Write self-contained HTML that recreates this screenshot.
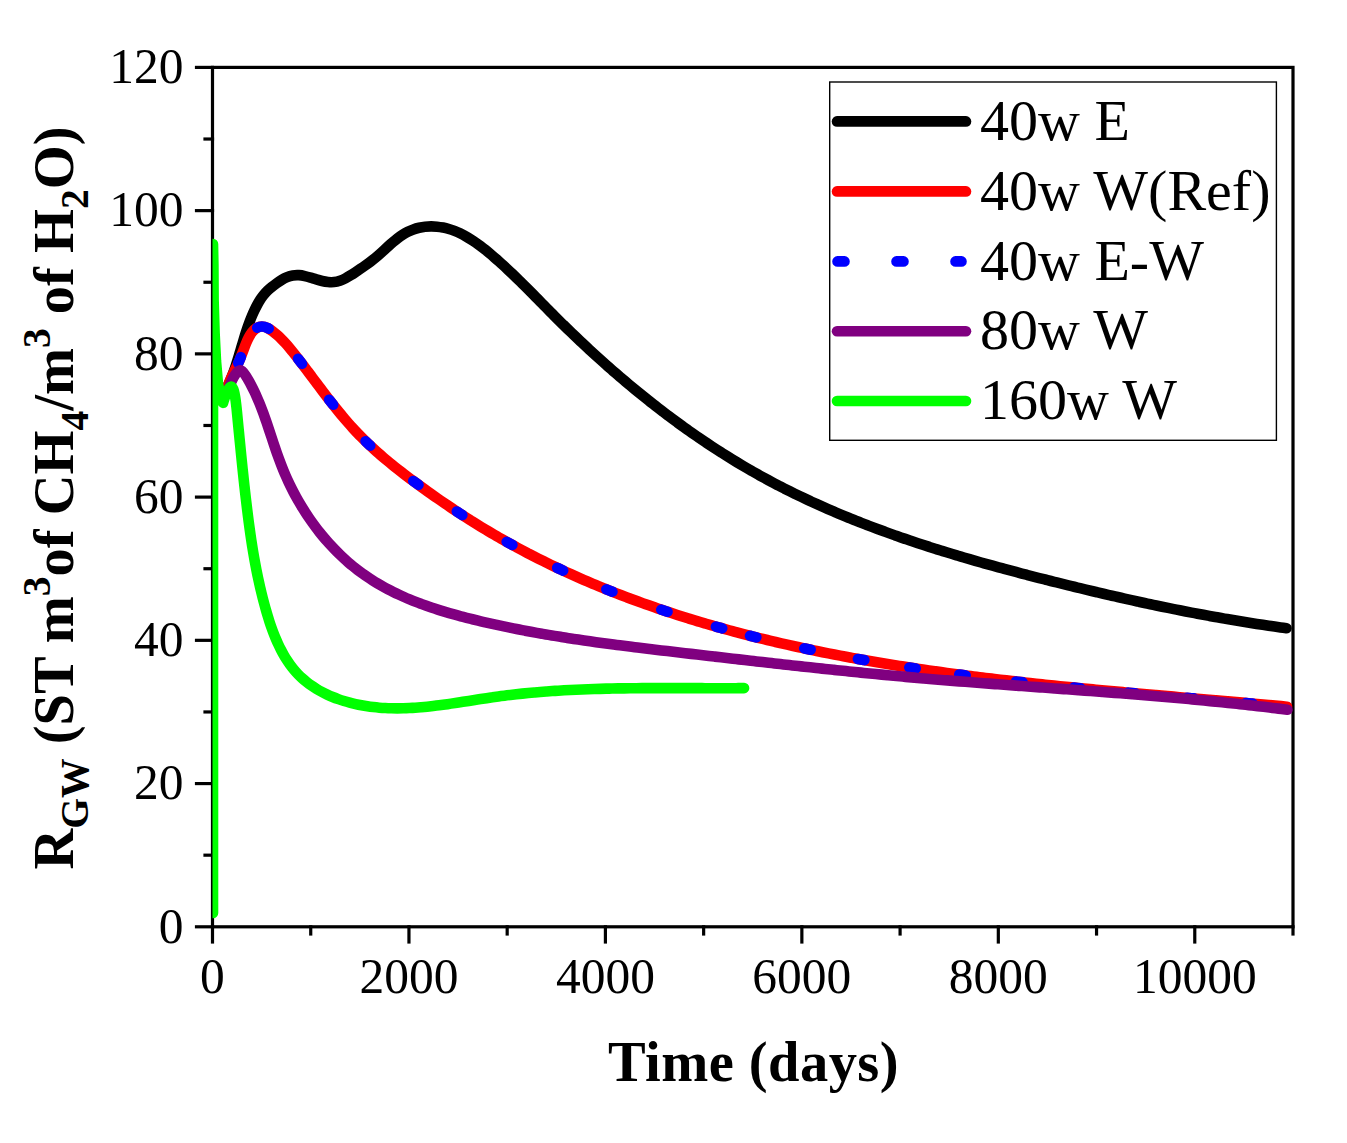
<!DOCTYPE html>
<html><head><meta charset="utf-8"><style>
html,body{margin:0;padding:0;background:#fff;overflow:hidden;}
svg{display:block;}
text{font-family:"Liberation Serif",serif;fill:#000;}
.tk{font-size:49.5px;}
.lg{font-size:58px;}
.ax{font-size:56.5px;font-weight:bold;}
.tt{letter-spacing:0.45px;}
</style></head><body>
<svg width="1347" height="1143" viewBox="0 0 1347 1143">
<rect width="1347" height="1143" fill="#fff"/>
<defs><clipPath id="pc"><rect x="212.5" y="67.4" width="1080.5" height="859.4"/></clipPath></defs>
<g stroke="#000" stroke-width="3.2" stroke-linecap="square" fill="none">
<rect x="212.5" y="67.4" width="1080.5" height="859.4"/>
<line x1="196.5" y1="926.80" x2="212.50" y2="926.80"/>
<line x1="196.5" y1="783.57" x2="212.50" y2="783.57"/>
<line x1="196.5" y1="640.33" x2="212.50" y2="640.33"/>
<line x1="196.5" y1="497.10" x2="212.50" y2="497.10"/>
<line x1="196.5" y1="353.87" x2="212.50" y2="353.87"/>
<line x1="196.5" y1="210.63" x2="212.50" y2="210.63"/>
<line x1="196.5" y1="67.40" x2="212.50" y2="67.40"/>
<line x1="205" y1="855.18" x2="212.50" y2="855.18"/>
<line x1="205" y1="711.95" x2="212.50" y2="711.95"/>
<line x1="205" y1="568.72" x2="212.50" y2="568.72"/>
<line x1="205" y1="425.48" x2="212.50" y2="425.48"/>
<line x1="205" y1="282.25" x2="212.50" y2="282.25"/>
<line x1="205" y1="139.02" x2="212.50" y2="139.02"/>
<line x1="212.50" y1="926.80" x2="212.50" y2="942"/>
<line x1="408.95" y1="926.80" x2="408.95" y2="942"/>
<line x1="605.41" y1="926.80" x2="605.41" y2="942"/>
<line x1="801.86" y1="926.80" x2="801.86" y2="942"/>
<line x1="998.32" y1="926.80" x2="998.32" y2="942"/>
<line x1="1194.77" y1="926.80" x2="1194.77" y2="942"/>
<line x1="310.73" y1="926.80" x2="310.73" y2="934"/>
<line x1="507.18" y1="926.80" x2="507.18" y2="934"/>
<line x1="703.64" y1="926.80" x2="703.64" y2="934"/>
<line x1="900.09" y1="926.80" x2="900.09" y2="934"/>
<line x1="1096.55" y1="926.80" x2="1096.55" y2="934"/>
<line x1="1293.00" y1="926.80" x2="1293.00" y2="934"/>
</g>
<g clip-path="url(#pc)" fill="none" stroke-linejoin="round" stroke-linecap="round" stroke-width="10.6">
<path d="M225.89,389.88 C226.82,388.10 227.70,386.30 228.54,384.48 C229.37,382.66 230.17,380.82 230.93,378.96 C231.68,377.11 232.41,375.24 233.10,373.36 C233.79,371.48 234.46,369.59 235.10,367.69 C235.74,365.79 236.36,363.89 236.97,361.97 C237.57,360.07 238.16,358.15 238.74,356.23 C239.31,354.31 239.88,352.39 240.45,350.47 C241.02,348.55 241.58,346.62 242.15,344.70 C242.72,342.78 243.29,340.86 243.87,338.94 C244.46,337.02 245.05,335.11 245.66,333.20 C246.27,331.29 246.89,329.39 247.54,327.49 C248.20,325.59 248.87,323.71 249.57,321.84 C250.28,319.96 251.02,318.09 251.79,316.25 C252.56,314.39 253.37,312.56 254.22,310.75 C255.08,308.94 255.97,307.14 256.92,305.38 C257.87,303.61 258.86,301.87 259.93,300.18 C261.01,298.49 262.15,296.84 263.40,295.27 C264.63,293.70 265.97,292.22 267.42,290.81 C268.83,289.42 270.34,288.10 271.92,286.82 C273.46,285.57 275.06,284.36 276.70,283.19 C278.34,282.02 280.02,280.91 281.74,279.90 C283.49,278.88 285.29,277.96 287.11,277.21 C288.99,276.43 290.91,275.84 292.85,275.48 C294.83,275.11 296.83,275.02 298.84,275.16 C300.80,275.29 302.78,275.63 304.77,276.09 C306.69,276.53 308.63,277.09 310.57,277.67 C312.48,278.25 314.39,278.87 316.31,279.44 C318.25,280.02 320.19,280.56 322.12,281.01 C324.10,281.48 326.07,281.84 328.04,282.04 C330.05,282.25 332.06,282.29 334.04,282.09 C336.01,281.89 337.96,281.43 339.89,280.77 C341.75,280.13 343.58,279.31 345.39,278.36 C347.15,277.45 348.88,276.42 350.59,275.35 C352.29,274.28 353.96,273.16 355.61,272.04 C357.30,270.91 358.96,269.79 360.59,268.68 C362.27,267.55 363.92,266.42 365.55,265.28 C367.20,264.13 368.82,262.96 370.42,261.75 C372.01,260.56 373.58,259.32 375.14,258.03 C376.67,256.76 378.18,255.44 379.68,254.09 C381.16,252.76 382.64,251.40 384.12,250.04 C385.59,248.68 387.07,247.32 388.55,245.98 C390.04,244.63 391.54,243.29 393.06,242.00 C394.59,240.69 396.14,239.42 397.72,238.21 C399.33,236.98 400.96,235.82 402.63,234.74 C404.32,233.65 406.06,232.64 407.84,231.74 C409.63,230.84 411.47,230.06 413.37,229.39 C415.25,228.72 417.18,228.18 419.14,227.74 C421.10,227.30 423.08,226.98 425.07,226.76 C427.06,226.54 429.07,226.43 431.07,226.42 C433.08,226.41 435.09,226.50 437.07,226.69 C439.08,226.88 441.07,227.17 443.02,227.55 C444.99,227.94 446.94,228.42 448.86,228.98 C450.78,229.55 452.67,230.20 454.54,230.93 C456.41,231.65 458.24,232.45 460.06,233.32 C461.86,234.18 463.64,235.10 465.39,236.09 C467.14,237.06 468.86,238.09 470.56,239.16 C472.24,240.23 473.91,241.34 475.56,242.50 C477.20,243.64 478.82,244.82 480.42,246.03 C482.02,247.24 483.60,248.47 485.16,249.72 C486.73,250.98 488.28,252.25 489.81,253.54 C491.35,254.83 492.87,256.13 494.38,257.44 C495.90,258.76 497.41,260.08 498.90,261.41 C500.40,262.74 501.89,264.09 503.36,265.44 C504.84,266.79 506.32,268.15 507.78,269.52 C509.24,270.89 510.70,272.26 512.15,273.65 C513.60,275.03 515.04,276.42 516.48,277.81 C517.92,279.21 519.35,280.61 520.78,282.02 C522.20,283.43 523.63,284.84 525.04,286.25 C526.46,287.67 527.88,289.09 529.29,290.51 C530.70,291.93 532.11,293.35 533.52,294.78 C534.93,296.21 536.33,297.63 537.74,299.06 C539.14,300.49 540.55,301.92 541.95,303.35 C543.36,304.78 544.76,306.21 546.17,307.64 C547.57,309.06 548.98,310.49 550.39,311.91 C551.80,313.34 553.21,314.76 554.63,316.18 C556.04,317.59 557.46,319.01 558.89,320.42 C560.31,321.83 561.73,323.24 563.16,324.65 C564.59,326.05 566.02,327.45 567.46,328.85 C568.90,330.25 570.34,331.64 571.78,333.03 C573.22,334.42 574.67,335.81 576.12,337.19 C577.57,338.57 579.02,339.95 580.48,341.33 C581.94,342.70 583.40,344.08 584.86,345.44 C586.33,346.81 587.79,348.18 589.27,349.54 C590.74,350.90 592.21,352.25 593.69,353.61 C595.17,354.96 596.65,356.31 598.14,357.65 C599.62,359.00 601.11,360.34 602.61,361.67 C604.10,363.01 605.60,364.34 607.10,365.67 C608.60,367.00 610.10,368.32 611.61,369.64 C613.12,370.96 614.63,372.27 616.15,373.59 C617.66,374.90 619.18,376.20 620.70,377.50 C622.23,378.81 623.75,380.10 625.28,381.40 C626.82,382.69 628.35,383.98 629.89,385.26 C631.43,386.55 632.97,387.83 634.51,389.10 C636.06,390.38 637.61,391.65 639.16,392.91 C640.72,394.18 642.28,395.44 643.84,396.70 C645.40,397.95 646.96,399.20 648.53,400.45 C650.10,401.69 651.68,402.94 653.25,404.17 C654.83,405.41 656.41,406.64 658.00,407.87 C659.58,409.09 661.17,410.31 662.76,411.53 C664.35,412.75 665.95,413.96 667.55,415.16 C669.15,416.37 670.76,417.57 672.37,418.76 C673.98,419.96 675.59,421.15 677.20,422.33 C678.82,423.51 680.44,424.69 682.07,425.86 C683.69,427.04 685.32,428.20 686.95,429.37 C688.59,430.53 690.22,431.68 691.87,432.83 C693.51,433.98 695.15,435.13 696.80,436.26 C698.45,437.40 700.10,438.53 701.76,439.66 C703.42,440.79 705.08,441.91 706.75,443.02 C708.41,444.14 710.08,445.24 711.75,446.34 C713.43,447.45 715.11,448.54 716.79,449.63 C718.47,450.72 720.16,451.80 721.85,452.88 C723.54,453.95 725.23,455.02 726.93,456.09 C728.63,457.15 730.33,458.21 732.04,459.26 C733.75,460.31 735.46,461.35 737.17,462.39 C738.89,463.42 740.61,464.45 742.33,465.47 C744.05,466.50 745.78,467.51 747.51,468.52 C749.25,469.53 750.98,470.53 752.72,471.52 C754.46,472.52 756.21,473.50 757.95,474.48 C759.70,475.46 761.45,476.43 763.21,477.40 C764.97,478.36 766.73,479.32 768.49,480.27 C770.26,481.22 772.03,482.16 773.80,483.10 C775.57,484.03 777.35,484.96 779.13,485.88 C780.91,486.80 782.69,487.71 784.48,488.62 C786.26,489.53 788.05,490.42 789.85,491.32 C791.64,492.21 793.44,493.09 795.24,493.97 C797.04,494.85 798.85,495.72 800.66,496.59 C802.46,497.45 804.27,498.31 806.09,499.16 C807.90,500.01 809.72,500.86 811.54,501.70 C813.36,502.53 815.18,503.37 817.01,504.19 C818.83,505.02 820.66,505.83 822.50,506.65 C824.33,507.46 826.16,508.27 828.00,509.07 C829.84,509.87 831.68,510.66 833.52,511.45 C835.36,512.24 837.21,513.02 839.05,513.80 C840.90,514.57 842.75,515.34 844.60,516.11 C846.45,516.87 848.31,517.63 850.17,518.38 C852.02,519.13 853.88,519.88 855.74,520.62 C857.61,521.37 859.47,522.10 861.34,522.83 C863.20,523.56 865.07,524.29 866.94,525.01 C868.81,525.73 870.68,526.44 872.56,527.15 C874.43,527.86 876.31,528.56 878.19,529.26 C880.06,529.96 881.94,530.65 883.83,531.34 C885.71,532.03 887.59,532.71 889.48,533.39 C891.36,534.07 893.25,534.74 895.14,535.41 C897.03,536.07 898.92,536.74 900.81,537.39 C902.71,538.05 904.60,538.71 906.50,539.35 C908.39,540.00 910.29,540.65 912.19,541.28 C914.09,541.92 915.99,542.56 917.89,543.19 C919.80,543.82 921.70,544.44 923.60,545.06 C925.51,545.68 927.42,546.30 929.32,546.91 C931.23,547.52 933.14,548.13 935.05,548.73 C936.96,549.34 938.88,549.94 940.79,550.53 C942.70,551.13 944.62,551.72 946.53,552.30 C948.45,552.89 950.37,553.47 952.29,554.05 C954.20,554.63 956.12,555.21 958.04,555.78 C959.96,556.35 961.89,556.92 963.81,557.49 C965.73,558.05 967.65,558.61 969.58,559.17 C971.50,559.73 973.43,560.28 975.36,560.84 C977.28,561.39 979.21,561.93 981.14,562.48 C983.07,563.02 985.00,563.57 986.93,564.11 C988.86,564.64 990.79,565.18 992.72,565.71 C994.65,566.25 996.58,566.78 998.51,567.30 C1000.45,567.83 1002.38,568.36 1004.32,568.88 C1006.25,569.40 1008.19,569.92 1010.12,570.44 C1012.06,570.96 1014.00,571.47 1015.93,571.98 C1017.87,572.49 1019.81,573.00 1021.75,573.51 C1023.68,574.02 1025.62,574.53 1027.56,575.03 C1029.50,575.53 1031.44,576.04 1033.38,576.54 C1035.32,577.04 1037.26,577.53 1039.21,578.03 C1041.15,578.53 1043.09,579.02 1045.03,579.51 C1046.97,580.01 1048.92,580.50 1050.86,580.99 C1052.80,581.47 1054.75,581.96 1056.69,582.45 C1058.63,582.93 1060.58,583.42 1062.52,583.90 C1064.47,584.38 1066.41,584.86 1068.36,585.34 C1070.31,585.82 1072.25,586.30 1074.20,586.77 C1076.15,587.25 1078.09,587.72 1080.04,588.19 C1081.99,588.66 1083.94,589.13 1085.89,589.60 C1087.83,590.07 1089.78,590.53 1091.73,591.00 C1093.68,591.46 1095.63,591.92 1097.58,592.38 C1099.53,592.84 1101.48,593.30 1103.44,593.75 C1105.39,594.21 1107.34,594.66 1109.29,595.11 C1111.24,595.56 1113.20,596.01 1115.15,596.45 C1117.10,596.90 1119.06,597.34 1121.01,597.78 C1122.97,598.23 1124.92,598.67 1126.88,599.10 C1128.83,599.54 1130.79,599.97 1132.75,600.41 C1134.70,600.84 1136.66,601.27 1138.62,601.69 C1140.58,602.12 1142.54,602.55 1144.49,602.97 C1146.45,603.39 1148.41,603.81 1150.37,604.23 C1152.33,604.64 1154.29,605.06 1156.25,605.47 C1158.22,605.88 1160.18,606.29 1162.14,606.70 C1164.10,607.10 1166.06,607.51 1168.03,607.91 C1169.99,608.31 1171.95,608.71 1173.92,609.10 C1175.88,609.50 1177.85,609.89 1179.81,610.28 C1181.78,610.67 1183.75,611.06 1185.71,611.44 C1187.68,611.83 1189.65,612.21 1191.61,612.59 C1193.58,612.96 1195.55,613.34 1197.52,613.71 C1199.49,614.08 1201.46,614.45 1203.43,614.82 C1205.40,615.19 1207.37,615.55 1209.34,615.91 C1211.31,616.27 1213.28,616.63 1215.26,616.98 C1217.23,617.33 1219.20,617.69 1221.17,618.03 C1223.15,618.38 1225.12,618.73 1227.10,619.07 C1229.07,619.41 1231.05,619.74 1233.02,620.08 C1235.00,620.41 1236.97,620.74 1238.95,621.07 C1240.93,621.40 1242.91,621.72 1244.88,622.05 C1246.86,622.37 1248.84,622.68 1250.82,623.00 C1252.80,623.31 1254.78,623.62 1256.76,623.93 C1258.74,624.24 1260.72,624.54 1262.70,624.84 C1264.68,625.14 1266.66,625.44 1268.65,625.73 C1270.63,626.02 1272.61,626.31 1274.59,626.60 C1276.58,626.88 1278.56,627.16 1280.55,627.44 C1282.53,627.72 1284.52,627.99 1286.50,628.26" stroke="#000"/>
<path d="M227.44,387.09 C228.14,385.07 228.85,383.22 229.57,381.48 C230.37,379.53 231.18,377.72 231.99,375.99 C232.86,374.13 233.74,372.35 234.62,370.60 C235.50,368.82 236.39,367.05 237.26,365.21 C238.09,363.47 238.92,361.68 239.73,359.74 C240.47,357.99 241.20,356.11 241.93,354.16 C242.61,352.33 243.31,350.44 244.02,348.54 C244.73,346.66 245.45,344.78 246.22,342.96 C247.01,341.07 247.85,339.23 248.74,337.52 C249.71,335.65 250.76,333.92 251.89,332.42 C253.18,330.70 254.60,329.28 256.17,328.26 C257.89,327.14 259.81,326.51 261.82,326.49 C263.68,326.48 265.62,327.04 267.55,328.03 C269.25,328.90 270.95,330.06 272.58,331.29 C274.19,332.50 275.73,333.77 277.23,335.08 C278.74,336.40 280.19,337.78 281.60,339.19 C283.02,340.60 284.39,342.05 285.73,343.54 C287.07,345.02 288.38,346.53 289.66,348.07 C290.95,349.60 292.20,351.16 293.45,352.72 C294.69,354.29 295.92,355.87 297.15,357.45 C298.37,359.03 299.59,360.61 300.81,362.20 C302.02,363.79 303.23,365.38 304.44,366.98 C305.64,368.57 306.85,370.17 308.05,371.77 C309.25,373.36 310.45,374.96 311.65,376.56 C312.85,378.16 314.05,379.76 315.25,381.36 C316.45,382.96 317.65,384.56 318.85,386.16 C320.06,387.76 321.26,389.35 322.47,390.95 C323.68,392.54 324.89,394.13 326.11,395.72 C327.33,397.31 328.55,398.89 329.78,400.47 C331.00,402.05 332.24,403.62 333.48,405.19 C334.72,406.76 335.97,408.32 337.23,409.87 C338.48,411.43 339.75,412.98 341.03,414.51 C342.30,416.05 343.59,417.59 344.88,419.11 C346.18,420.63 347.49,422.14 348.81,423.64 C350.13,425.14 351.47,426.63 352.81,428.11 C354.16,429.59 355.52,431.06 356.90,432.51 C358.27,433.96 359.66,435.40 361.07,436.82 C362.47,438.24 363.89,439.65 365.32,441.05 C366.76,442.44 368.20,443.82 369.66,445.19 C371.12,446.56 372.59,447.92 374.07,449.26 C375.55,450.61 377.04,451.94 378.54,453.26 C380.04,454.58 381.56,455.88 383.08,457.18 C384.60,458.48 386.13,459.76 387.67,461.04 C389.21,462.32 390.76,463.58 392.32,464.84 C393.87,466.10 395.43,467.34 397.00,468.58 C398.57,469.82 400.15,471.05 401.73,472.27 C403.31,473.50 404.90,474.71 406.50,475.92 C408.09,477.13 409.69,478.33 411.29,479.53 C412.89,480.72 414.50,481.91 416.11,483.10 C417.72,484.28 419.34,485.46 420.96,486.64 C422.58,487.81 424.20,488.98 425.82,490.15 C427.45,491.31 429.07,492.47 430.71,493.63 C432.34,494.79 433.97,495.94 435.61,497.08 C437.25,498.23 438.89,499.37 440.54,500.51 C442.18,501.64 443.83,502.77 445.49,503.90 C447.14,505.03 448.80,506.15 450.46,507.26 C452.12,508.38 453.78,509.48 455.45,510.59 C457.12,511.69 458.79,512.79 460.46,513.88 C462.14,514.97 463.82,516.06 465.50,517.14 C467.18,518.22 468.87,519.29 470.56,520.36 C472.25,521.43 473.95,522.49 475.65,523.54 C477.35,524.60 479.05,525.65 480.76,526.69 C482.46,527.73 484.18,528.76 485.89,529.79 C487.61,530.82 489.32,531.84 491.05,532.86 C492.77,533.87 494.50,534.88 496.23,535.88 C497.96,536.89 499.69,537.88 501.43,538.87 C503.17,539.86 504.91,540.84 506.66,541.82 C508.40,542.79 510.15,543.76 511.90,544.73 C513.66,545.69 515.41,546.64 517.17,547.59 C518.93,548.54 520.69,549.49 522.46,550.43 C524.23,551.36 526.00,552.29 527.77,553.22 C529.54,554.14 531.32,555.06 533.10,555.97 C534.88,556.88 536.66,557.79 538.45,558.69 C540.24,559.59 542.03,560.48 543.82,561.36 C545.61,562.25 547.41,563.13 549.20,564.00 C551.00,564.88 552.81,565.75 554.61,566.61 C556.42,567.47 558.22,568.32 560.03,569.17 C561.84,570.02 563.66,570.86 565.47,571.70 C567.29,572.54 569.11,573.37 570.93,574.19 C572.75,575.02 574.58,575.83 576.41,576.65 C578.23,577.46 580.06,578.27 581.90,579.07 C583.73,579.87 585.56,580.66 587.40,581.45 C589.24,582.24 591.08,583.02 592.92,583.80 C594.77,584.57 596.61,585.34 598.46,586.11 C600.31,586.87 602.16,587.63 604.01,588.38 C605.86,589.14 607.72,589.88 609.57,590.62 C611.43,591.37 613.29,592.10 615.15,592.83 C617.01,593.56 618.88,594.29 620.74,595.00 C622.61,595.72 624.48,596.44 626.35,597.14 C628.22,597.85 630.09,598.55 631.97,599.25 C633.84,599.95 635.72,600.64 637.60,601.32 C639.48,602.01 641.36,602.69 643.24,603.36 C645.12,604.04 647.01,604.70 648.89,605.37 C650.78,606.03 652.67,606.69 654.56,607.34 C656.45,608.00 658.34,608.64 660.23,609.29 C662.13,609.93 664.02,610.56 665.92,611.20 C667.82,611.83 669.72,612.45 671.62,613.08 C673.52,613.70 675.42,614.31 677.32,614.93 C679.23,615.54 681.13,616.14 683.04,616.74 C684.95,617.35 686.86,617.94 688.77,618.53 C690.68,619.12 692.59,619.71 694.50,620.29 C696.42,620.87 698.33,621.45 700.25,622.02 C702.16,622.59 704.08,623.16 706.00,623.72 C707.92,624.28 709.84,624.84 711.76,625.39 C713.68,625.95 715.61,626.49 717.53,627.04 C719.46,627.58 721.38,628.12 723.31,628.65 C725.24,629.19 727.17,629.72 729.10,630.24 C731.02,630.77 732.96,631.29 734.89,631.80 C736.82,632.32 738.75,632.83 740.69,633.34 C742.62,633.84 744.56,634.34 746.49,634.84 C748.43,635.34 750.37,635.83 752.31,636.32 C754.25,636.81 756.19,637.30 758.13,637.78 C760.07,638.26 762.01,638.74 763.95,639.21 C765.90,639.68 767.84,640.15 769.79,640.61 C771.73,641.08 773.68,641.54 775.63,641.99 C777.57,642.45 779.52,642.90 781.47,643.35 C783.42,643.80 785.37,644.24 787.32,644.68 C789.27,645.12 791.22,645.56 793.17,645.99 C795.13,646.42 797.08,646.85 799.03,647.28 C800.99,647.70 802.94,648.12 804.90,648.54 C806.85,648.96 808.81,649.37 810.77,649.78 C812.73,650.19 814.68,650.59 816.64,651.00 C818.60,651.40 820.56,651.80 822.52,652.19 C824.48,652.59 826.44,652.98 828.40,653.37 C830.37,653.75 832.33,654.14 834.29,654.52 C836.26,654.90 838.22,655.28 840.18,655.65 C842.15,656.03 844.11,656.40 846.08,656.77 C848.04,657.13 850.01,657.50 851.98,657.86 C853.94,658.22 855.91,658.58 857.88,658.93 C859.85,659.29 861.82,659.64 863.79,659.99 C865.76,660.33 867.73,660.68 869.70,661.02 C871.67,661.36 873.64,661.70 875.61,662.04 C877.58,662.37 879.55,662.70 881.52,663.03 C883.50,663.36 885.47,663.69 887.44,664.01 C889.42,664.34 891.39,664.66 893.36,664.98 C895.34,665.30 897.31,665.61 899.29,665.92 C901.26,666.24 903.24,666.54 905.21,666.85 C907.19,667.16 909.17,667.46 911.14,667.76 C913.12,668.07 915.10,668.36 917.08,668.66 C919.05,668.96 921.03,669.25 923.01,669.54 C924.99,669.83 926.97,670.12 928.95,670.40 C930.93,670.69 932.91,670.97 934.89,671.25 C936.87,671.53 938.85,671.81 940.83,672.09 C942.81,672.36 944.79,672.64 946.77,672.91 C948.75,673.18 950.73,673.45 952.72,673.71 C954.70,673.98 956.68,674.24 958.66,674.50 C960.64,674.77 962.63,675.02 964.61,675.28 C966.59,675.54 968.58,675.79 970.56,676.05 C972.54,676.30 974.53,676.55 976.51,676.80 C978.50,677.05 980.48,677.29 982.47,677.54 C984.45,677.78 986.44,678.02 988.42,678.26 C990.41,678.50 992.39,678.74 994.38,678.98 C996.36,679.22 998.35,679.45 1000.34,679.68 C1002.32,679.92 1004.31,680.15 1006.29,680.38 C1008.28,680.60 1010.27,680.83 1012.26,681.06 C1014.24,681.28 1016.23,681.51 1018.22,681.73 C1020.20,681.95 1022.19,682.17 1024.18,682.39 C1026.17,682.61 1028.16,682.83 1030.14,683.04 C1032.13,683.26 1034.12,683.47 1036.11,683.68 C1038.10,683.90 1040.09,684.11 1042.07,684.32 C1044.06,684.53 1046.05,684.73 1048.04,684.94 C1050.03,685.15 1052.02,685.35 1054.01,685.56 C1056.00,685.76 1057.99,685.96 1059.98,686.16 C1061.97,686.36 1063.96,686.56 1065.95,686.76 C1067.94,686.96 1069.93,687.16 1071.92,687.36 C1073.91,687.55 1075.90,687.75 1077.89,687.94 C1079.88,688.14 1081.87,688.33 1083.86,688.52 C1085.85,688.71 1087.84,688.90 1089.83,689.09 C1091.82,689.28 1093.81,689.47 1095.80,689.66 C1097.79,689.85 1099.78,690.03 1101.78,690.22 C1103.77,690.41 1105.76,690.59 1107.75,690.78 C1109.74,690.96 1111.73,691.14 1113.72,691.33 C1115.71,691.51 1117.71,691.69 1119.70,691.87 C1121.69,692.05 1123.68,692.23 1125.67,692.41 C1127.66,692.59 1129.65,692.77 1131.65,692.95 C1133.64,693.13 1135.63,693.31 1137.62,693.49 C1139.61,693.66 1141.61,693.84 1143.60,694.02 C1145.59,694.19 1147.58,694.37 1149.57,694.55 C1151.57,694.72 1153.56,694.90 1155.55,695.07 C1157.54,695.25 1159.53,695.42 1161.53,695.59 C1163.52,695.77 1165.51,695.94 1167.50,696.12 C1169.49,696.29 1171.49,696.46 1173.48,696.64 C1175.47,696.81 1177.46,696.98 1179.46,697.16 C1181.45,697.33 1183.44,697.50 1185.43,697.67 C1187.43,697.85 1189.42,698.02 1191.41,698.19 C1193.40,698.37 1195.39,698.54 1197.39,698.71 C1199.38,698.88 1201.37,699.06 1203.36,699.23 C1205.36,699.40 1207.35,699.57 1209.34,699.75 C1211.33,699.92 1213.32,700.09 1215.32,700.27 C1217.31,700.44 1219.30,700.61 1221.29,700.79 C1223.29,700.96 1225.28,701.14 1227.27,701.31 C1229.26,701.49 1231.25,701.66 1233.25,701.84 C1235.24,702.01 1237.23,702.19 1239.22,702.36 C1241.21,702.54 1243.21,702.72 1245.20,702.89 C1247.19,703.07 1249.18,703.25 1251.17,703.43 C1253.17,703.60 1255.16,703.78 1257.15,703.96 C1259.14,704.14 1261.13,704.32 1263.12,704.50 C1265.12,704.68 1267.11,704.86 1269.10,705.05 C1271.09,705.23 1273.08,705.41 1275.07,705.59 C1277.06,705.78 1279.06,705.96 1281.05,706.15 C1283.04,706.33 1285.03,706.52 1287.02,706.71" stroke="#ff0000"/>
<path d="M227.44,387.09 C228.14,385.07 228.85,383.22 229.57,381.48 C230.37,379.53 231.18,377.72 231.99,375.99 C232.86,374.13 233.74,372.35 234.62,370.60 C235.50,368.82 236.39,367.05 237.26,365.21 C238.09,363.47 238.92,361.68 239.73,359.74 C240.47,357.99 241.20,356.11 241.93,354.16 C242.61,352.33 243.31,350.44 244.02,348.54 C244.73,346.66 245.45,344.78 246.22,342.96 C247.01,341.07 247.85,339.23 248.74,337.52 C249.71,335.65 250.76,333.92 251.89,332.42 C253.18,330.70 254.60,329.28 256.17,328.26 C257.89,327.14 259.81,326.51 261.82,326.49 C263.68,326.48 265.62,327.04 267.55,328.03 C269.25,328.90 270.95,330.06 272.58,331.29 C274.19,332.50 275.73,333.77 277.23,335.08 C278.74,336.40 280.19,337.78 281.60,339.19 C283.02,340.60 284.39,342.05 285.73,343.54 C287.07,345.02 288.38,346.53 289.66,348.07 C290.95,349.60 292.20,351.16 293.45,352.72 C294.69,354.29 295.92,355.87 297.15,357.45 C298.37,359.03 299.59,360.61 300.81,362.20 C302.02,363.79 303.23,365.38 304.44,366.98 C305.64,368.57 306.85,370.17 308.05,371.77 C309.25,373.36 310.45,374.96 311.65,376.56 C312.85,378.16 314.05,379.76 315.25,381.36 C316.45,382.96 317.65,384.56 318.85,386.16 C320.06,387.76 321.26,389.35 322.47,390.95 C323.68,392.54 324.89,394.13 326.11,395.72 C327.33,397.31 328.55,398.89 329.78,400.47 C331.00,402.05 332.24,403.62 333.48,405.19 C334.72,406.76 335.97,408.32 337.23,409.87 C338.48,411.43 339.75,412.98 341.03,414.51 C342.30,416.05 343.59,417.59 344.88,419.11 C346.18,420.63 347.49,422.14 348.81,423.64 C350.13,425.14 351.47,426.63 352.81,428.11 C354.16,429.59 355.52,431.06 356.90,432.51 C358.27,433.96 359.66,435.40 361.07,436.82 C362.47,438.24 363.89,439.65 365.32,441.05 C366.76,442.44 368.20,443.82 369.66,445.19 C371.12,446.56 372.59,447.92 374.07,449.26 C375.55,450.61 377.04,451.94 378.54,453.26 C380.04,454.58 381.56,455.88 383.08,457.18 C384.60,458.48 386.13,459.76 387.67,461.04 C389.21,462.32 390.76,463.58 392.32,464.84 C393.87,466.10 395.43,467.34 397.00,468.58 C398.57,469.82 400.15,471.05 401.73,472.27 C403.31,473.50 404.90,474.71 406.50,475.92 C408.09,477.13 409.69,478.33 411.29,479.53 C412.89,480.72 414.50,481.91 416.11,483.10 C417.72,484.28 419.34,485.46 420.96,486.64 C422.58,487.81 424.20,488.98 425.82,490.15 C427.45,491.31 429.07,492.47 430.71,493.63 C432.34,494.79 433.97,495.94 435.61,497.08 C437.25,498.23 438.89,499.37 440.54,500.51 C442.18,501.64 443.83,502.77 445.49,503.90 C447.14,505.03 448.80,506.15 450.46,507.26 C452.12,508.38 453.78,509.48 455.45,510.59 C457.12,511.69 458.79,512.79 460.46,513.88 C462.14,514.97 463.82,516.06 465.50,517.14 C467.18,518.22 468.87,519.29 470.56,520.36 C472.25,521.43 473.95,522.49 475.65,523.54 C477.35,524.60 479.05,525.65 480.76,526.69 C482.46,527.73 484.18,528.76 485.89,529.79 C487.61,530.82 489.32,531.84 491.05,532.86 C492.77,533.87 494.50,534.88 496.23,535.88 C497.96,536.89 499.69,537.88 501.43,538.87 C503.17,539.86 504.91,540.84 506.66,541.82 C508.40,542.79 510.15,543.76 511.90,544.73 C513.66,545.69 515.41,546.64 517.17,547.59 C518.93,548.54 520.69,549.49 522.46,550.43 C524.23,551.36 526.00,552.29 527.77,553.22 C529.54,554.14 531.32,555.06 533.10,555.97 C534.88,556.88 536.66,557.79 538.45,558.69 C540.24,559.59 542.03,560.48 543.82,561.36 C545.61,562.25 547.41,563.13 549.20,564.00 C551.00,564.88 552.81,565.75 554.61,566.61 C556.42,567.47 558.22,568.32 560.03,569.17 C561.84,570.02 563.66,570.86 565.47,571.70 C567.29,572.54 569.11,573.37 570.93,574.19 C572.75,575.02 574.58,575.83 576.41,576.65 C578.23,577.46 580.06,578.27 581.90,579.07 C583.73,579.87 585.56,580.66 587.40,581.45 C589.24,582.24 591.08,583.02 592.92,583.80 C594.77,584.57 596.61,585.34 598.46,586.11 C600.31,586.87 602.16,587.63 604.01,588.38 C605.86,589.14 607.72,589.88 609.57,590.62 C611.43,591.37 613.29,592.10 615.15,592.83 C617.01,593.56 618.88,594.29 620.74,595.00 C622.61,595.72 624.48,596.44 626.35,597.14 C628.22,597.85 630.09,598.55 631.97,599.25 C633.84,599.95 635.72,600.64 637.60,601.32 C639.48,602.01 641.36,602.69 643.24,603.36 C645.12,604.04 647.01,604.70 648.89,605.37 C650.78,606.03 652.67,606.69 654.56,607.34 C656.45,608.00 658.34,608.64 660.23,609.29 C662.13,609.93 664.02,610.56 665.92,611.20 C667.82,611.83 669.72,612.45 671.62,613.08 C673.52,613.70 675.42,614.31 677.32,614.93 C679.23,615.54 681.13,616.14 683.04,616.74 C684.95,617.35 686.86,617.94 688.77,618.53 C690.68,619.12 692.59,619.71 694.50,620.29 C696.42,620.87 698.33,621.45 700.25,622.02 C702.16,622.59 704.08,623.16 706.00,623.72 C707.92,624.28 709.84,624.84 711.76,625.39 C713.68,625.95 715.61,626.49 717.53,627.04 C719.46,627.58 721.38,628.12 723.31,628.65 C725.24,629.19 727.17,629.72 729.10,630.24 C731.02,630.77 732.96,631.29 734.89,631.80 C736.82,632.32 738.75,632.83 740.69,633.34 C742.62,633.84 744.56,634.34 746.49,634.84 C748.43,635.34 750.37,635.83 752.31,636.32 C754.25,636.81 756.19,637.30 758.13,637.78 C760.07,638.26 762.01,638.74 763.95,639.21 C765.90,639.68 767.84,640.15 769.79,640.61 C771.73,641.08 773.68,641.54 775.63,641.99 C777.57,642.45 779.52,642.90 781.47,643.35 C783.42,643.80 785.37,644.24 787.32,644.68 C789.27,645.12 791.22,645.56 793.17,645.99 C795.13,646.42 797.08,646.85 799.03,647.28 C800.99,647.70 802.94,648.12 804.90,648.54 C806.85,648.96 808.81,649.37 810.77,649.78 C812.73,650.19 814.68,650.59 816.64,651.00 C818.60,651.40 820.56,651.80 822.52,652.19 C824.48,652.59 826.44,652.98 828.40,653.37 C830.37,653.75 832.33,654.14 834.29,654.52 C836.26,654.90 838.22,655.28 840.18,655.65 C842.15,656.03 844.11,656.40 846.08,656.77 C848.04,657.13 850.01,657.50 851.98,657.86 C853.94,658.22 855.91,658.58 857.88,658.93 C859.85,659.29 861.82,659.64 863.79,659.99 C865.76,660.33 867.73,660.68 869.70,661.02 C871.67,661.36 873.64,661.70 875.61,662.04 C877.58,662.37 879.55,662.70 881.52,663.03 C883.50,663.36 885.47,663.69 887.44,664.01 C889.42,664.34 891.39,664.66 893.36,664.98 C895.34,665.30 897.31,665.61 899.29,665.92 C901.26,666.24 903.24,666.54 905.21,666.85 C907.19,667.16 909.17,667.46 911.14,667.76 C913.12,668.07 915.10,668.36 917.08,668.66 C919.05,668.96 921.03,669.25 923.01,669.54 C924.99,669.83 926.97,670.12 928.95,670.40 C930.93,670.69 932.91,670.97 934.89,671.25 C936.87,671.53 938.85,671.81 940.83,672.09 C942.81,672.36 944.79,672.64 946.77,672.91 C948.75,673.18 950.73,673.45 952.72,673.71 C954.70,673.98 956.68,674.24 958.66,674.50 C960.64,674.77 962.63,675.02 964.61,675.28 C966.59,675.54 968.58,675.79 970.56,676.05 C972.54,676.30 974.53,676.55 976.51,676.80 C978.50,677.05 980.48,677.29 982.47,677.54 C984.45,677.78 986.44,678.02 988.42,678.26 C990.41,678.50 992.39,678.74 994.38,678.98 C996.36,679.22 998.35,679.45 1000.34,679.68 C1002.32,679.92 1004.31,680.15 1006.29,680.38 C1008.28,680.60 1010.27,680.83 1012.26,681.06 C1014.24,681.28 1016.23,681.51 1018.22,681.73 C1020.20,681.95 1022.19,682.17 1024.18,682.39 C1026.17,682.61 1028.16,682.83 1030.14,683.04 C1032.13,683.26 1034.12,683.47 1036.11,683.68 C1038.10,683.90 1040.09,684.11 1042.07,684.32 C1044.06,684.53 1046.05,684.73 1048.04,684.94 C1050.03,685.15 1052.02,685.35 1054.01,685.56 C1056.00,685.76 1057.99,685.96 1059.98,686.16 C1061.97,686.36 1063.96,686.56 1065.95,686.76 C1067.94,686.96 1069.93,687.16 1071.92,687.36 C1073.91,687.55 1075.90,687.75 1077.89,687.94 C1079.88,688.14 1081.87,688.33 1083.86,688.52 C1085.85,688.71 1087.84,688.90 1089.83,689.09 C1091.82,689.28 1093.81,689.47 1095.80,689.66 C1097.79,689.85 1099.78,690.03 1101.78,690.22 C1103.77,690.41 1105.76,690.59 1107.75,690.78 C1109.74,690.96 1111.73,691.14 1113.72,691.33 C1115.71,691.51 1117.71,691.69 1119.70,691.87 C1121.69,692.05 1123.68,692.23 1125.67,692.41 C1127.66,692.59 1129.65,692.77 1131.65,692.95 C1133.64,693.13 1135.63,693.31 1137.62,693.49 C1139.61,693.66 1141.61,693.84 1143.60,694.02 C1145.59,694.19 1147.58,694.37 1149.57,694.55 C1151.57,694.72 1153.56,694.90 1155.55,695.07 C1157.54,695.25 1159.53,695.42 1161.53,695.59 C1163.52,695.77 1165.51,695.94 1167.50,696.12 C1169.49,696.29 1171.49,696.46 1173.48,696.64 C1175.47,696.81 1177.46,696.98 1179.46,697.16 C1181.45,697.33 1183.44,697.50 1185.43,697.67 C1187.43,697.85 1189.42,698.02 1191.41,698.19 C1193.40,698.37 1195.39,698.54 1197.39,698.71 C1199.38,698.88 1201.37,699.06 1203.36,699.23 C1205.36,699.40 1207.35,699.57 1209.34,699.75 C1211.33,699.92 1213.32,700.09 1215.32,700.27 C1217.31,700.44 1219.30,700.61 1221.29,700.79 C1223.29,700.96 1225.28,701.14 1227.27,701.31 C1229.26,701.49 1231.25,701.66 1233.25,701.84 C1235.24,702.01 1237.23,702.19 1239.22,702.36 C1241.21,702.54 1243.21,702.72 1245.20,702.89 C1247.19,703.07 1249.18,703.25 1251.17,703.43 C1253.17,703.60 1255.16,703.78 1257.15,703.96 C1259.14,704.14 1261.13,704.32 1263.12,704.50 C1265.12,704.68 1267.11,704.86 1269.10,705.05 C1271.09,705.23 1273.08,705.41 1275.07,705.59 C1277.06,705.78 1279.06,705.96 1281.05,706.15 C1283.04,706.33 1285.03,706.52 1287.02,706.71" stroke="#0000ff" stroke-dasharray="6.50 34.29 12.00 42.24 6.50 44.93 6.50 48.78 6.50 55.63 6.50 46.74 6.50 51.85 6.50 50.36 6.50 47.13 6.50 52.10 6.50 50.69 6.50 28.78 6.50 49.25 6.50 48.17 6.50 45.57 6.50 43.94 6.50 50.80 6.50 51.59 6.50 48.35 6.50 52.37 6.50 52.46 6.50 5000.00" stroke-dashoffset="-26.44"/>
<path d="M225.09,392.81 C226.66,391.55 227.71,389.95 228.64,388.04 C229.44,386.43 230.15,384.59 231.03,382.55 C231.76,380.87 232.63,378.99 233.64,377.16 C234.68,375.28 235.84,373.49 236.99,372.21 C238.84,370.17 240.59,369.87 242.15,371.08 C243.45,372.09 244.64,373.94 245.79,375.79 C246.85,377.50 247.87,379.22 248.85,380.95 C249.83,382.69 250.78,384.45 251.70,386.22 C252.62,387.99 253.50,389.78 254.36,391.58 C255.22,393.38 256.05,395.20 256.86,397.03 C257.66,398.85 258.44,400.69 259.20,402.54 C259.95,404.39 260.69,406.24 261.41,408.11 C262.12,409.97 262.82,411.84 263.51,413.72 C264.19,415.59 264.86,417.47 265.52,419.36 C266.18,421.24 266.83,423.13 267.47,425.02 C268.11,426.91 268.74,428.80 269.37,430.70 C270.00,432.59 270.63,434.49 271.26,436.39 C271.88,438.28 272.51,440.18 273.14,442.07 C273.77,443.97 274.41,445.86 275.05,447.75 C275.69,449.64 276.34,451.53 277.00,453.41 C277.66,455.30 278.34,457.18 279.02,459.05 C279.71,460.92 280.41,462.79 281.13,464.66 C281.85,466.52 282.59,468.37 283.35,470.22 C284.11,472.07 284.89,473.90 285.69,475.74 C286.49,477.56 287.31,479.38 288.16,481.19 C289.00,483.00 289.86,484.80 290.75,486.59 C291.63,488.38 292.53,490.16 293.46,491.94 C294.38,493.70 295.33,495.46 296.29,497.21 C297.26,498.96 298.24,500.70 299.25,502.42 C300.25,504.15 301.28,505.86 302.32,507.56 C303.37,509.26 304.43,510.95 305.52,512.63 C306.60,514.31 307.71,515.97 308.83,517.62 C309.95,519.27 311.10,520.91 312.26,522.53 C313.42,524.15 314.61,525.76 315.81,527.35 C317.01,528.95 318.23,530.53 319.47,532.09 C320.72,533.66 321.98,535.21 323.26,536.74 C324.54,538.27 325.84,539.79 327.15,541.28 C328.47,542.79 329.81,544.27 331.17,545.73 C332.53,547.20 333.90,548.64 335.30,550.07 C336.69,551.50 338.11,552.91 339.54,554.30 C340.98,555.69 342.43,557.06 343.90,558.40 C345.37,559.75 346.86,561.08 348.37,562.39 C349.88,563.70 351.41,564.98 352.96,566.24 C354.51,567.51 356.07,568.75 357.65,569.96 C359.24,571.18 360.84,572.37 362.46,573.54 C364.08,574.71 365.72,575.85 367.37,576.97 C369.02,578.08 370.69,579.18 372.38,580.25 C374.07,581.31 375.77,582.36 377.48,583.38 C379.20,584.40 380.93,585.40 382.67,586.37 C384.42,587.35 386.17,588.30 387.94,589.23 C389.71,590.16 391.48,591.06 393.27,591.95 C395.06,592.83 396.86,593.70 398.67,594.54 C400.48,595.39 402.30,596.21 404.13,597.01 C405.96,597.82 407.79,598.60 409.64,599.37 C411.48,600.13 413.33,600.88 415.19,601.61 C417.05,602.34 418.91,603.05 420.79,603.75 C422.66,604.44 424.53,605.12 426.42,605.79 C428.30,606.45 430.19,607.10 432.08,607.73 C433.98,608.37 435.87,608.98 437.78,609.59 C439.68,610.20 441.59,610.79 443.50,611.37 C445.41,611.95 447.32,612.52 449.24,613.07 C451.16,613.63 453.08,614.17 455.00,614.70 C456.93,615.24 458.85,615.76 460.78,616.28 C462.71,616.79 464.65,617.29 466.58,617.79 C468.51,618.28 470.45,618.77 472.39,619.25 C474.33,619.73 476.27,620.20 478.21,620.67 C480.15,621.13 482.10,621.59 484.04,622.04 C485.98,622.49 487.93,622.94 489.88,623.38 C491.83,623.82 493.78,624.25 495.72,624.68 C497.68,625.11 499.63,625.53 501.58,625.94 C503.53,626.36 505.49,626.77 507.44,627.17 C509.40,627.58 511.35,627.98 513.31,628.37 C515.27,628.76 517.23,629.15 519.19,629.54 C521.15,629.92 523.11,630.29 525.07,630.67 C527.03,631.04 528.99,631.41 530.96,631.77 C532.92,632.13 534.88,632.49 536.85,632.84 C538.81,633.19 540.78,633.54 542.75,633.88 C544.72,634.23 546.68,634.56 548.65,634.90 C550.62,635.23 552.59,635.56 554.56,635.89 C556.53,636.21 558.50,636.53 560.47,636.85 C562.44,637.17 564.41,637.48 566.39,637.79 C568.36,638.10 570.33,638.40 572.31,638.70 C574.28,639.01 576.25,639.30 578.23,639.60 C580.20,639.89 582.18,640.18 584.15,640.47 C586.13,640.76 588.11,641.04 590.08,641.32 C592.06,641.60 594.04,641.88 596.02,642.16 C597.99,642.43 599.97,642.70 601.95,642.97 C603.93,643.24 605.91,643.51 607.89,643.77 C609.86,644.04 611.84,644.30 613.82,644.56 C615.80,644.82 617.78,645.07 619.76,645.33 C621.74,645.58 623.72,645.83 625.71,646.08 C627.69,646.33 629.67,646.58 631.65,646.83 C633.63,647.07 635.61,647.32 637.59,647.56 C639.58,647.81 641.56,648.05 643.54,648.29 C645.52,648.53 647.50,648.77 649.49,649.00 C651.47,649.24 653.45,649.48 655.43,649.71 C657.42,649.95 659.40,650.18 661.38,650.41 C663.37,650.65 665.35,650.88 667.33,651.11 C669.32,651.34 671.30,651.57 673.28,651.80 C675.27,652.03 677.25,652.26 679.23,652.49 C681.22,652.72 683.20,652.95 685.18,653.18 C687.17,653.41 689.15,653.64 691.13,653.87 C693.12,654.10 695.10,654.33 697.08,654.56 C699.07,654.79 701.05,655.02 703.03,655.25 C705.02,655.48 707.00,655.71 708.98,655.94 C710.97,656.17 712.95,656.39 714.93,656.62 C716.92,656.85 718.90,657.08 720.88,657.31 C722.87,657.54 724.85,657.77 726.83,658.00 C728.82,658.22 730.80,658.45 732.78,658.68 C734.77,658.91 736.75,659.14 738.74,659.36 C740.72,659.59 742.70,659.82 744.69,660.04 C746.67,660.27 748.65,660.50 750.64,660.72 C752.62,660.95 754.61,661.17 756.59,661.40 C758.57,661.62 760.56,661.85 762.54,662.07 C764.53,662.30 766.51,662.52 768.49,662.74 C770.48,662.97 772.46,663.19 774.45,663.41 C776.43,663.63 778.41,663.86 780.40,664.08 C782.38,664.30 784.37,664.52 786.35,664.74 C788.34,664.96 790.32,665.18 792.31,665.40 C794.29,665.61 796.28,665.83 798.26,666.05 C800.24,666.27 802.23,666.48 804.21,666.70 C806.20,666.91 808.18,667.13 810.17,667.34 C812.15,667.56 814.14,667.77 816.13,667.98 C818.11,668.20 820.10,668.41 822.08,668.62 C824.07,668.83 826.05,669.04 828.04,669.25 C830.02,669.46 832.01,669.67 834.00,669.87 C835.98,670.08 837.97,670.29 839.95,670.49 C841.94,670.70 843.93,670.90 845.91,671.10 C847.90,671.31 849.88,671.51 851.87,671.71 C853.86,671.91 855.84,672.11 857.83,672.31 C859.82,672.51 861.80,672.71 863.79,672.91 C865.78,673.10 867.76,673.30 869.75,673.49 C871.74,673.69 873.73,673.88 875.71,674.07 C877.70,674.26 879.69,674.45 881.68,674.64 C883.66,674.83 885.65,675.02 887.64,675.21 C889.63,675.39 891.62,675.58 893.60,675.76 C895.59,675.95 897.58,676.13 899.57,676.31 C901.56,676.49 903.54,676.67 905.53,676.85 C907.52,677.03 909.51,677.21 911.50,677.38 C913.49,677.56 915.48,677.73 917.47,677.91 C919.46,678.08 921.45,678.25 923.43,678.42 C925.42,678.59 927.41,678.76 929.40,678.93 C931.39,679.09 933.38,679.26 935.37,679.42 C937.36,679.59 939.35,679.75 941.34,679.92 C943.33,680.08 945.32,680.24 947.31,680.40 C949.30,680.56 951.29,680.72 953.28,680.88 C955.27,681.04 957.26,681.20 959.25,681.35 C961.24,681.51 963.23,681.67 965.23,681.82 C967.22,681.98 969.21,682.13 971.20,682.29 C973.19,682.44 975.18,682.59 977.17,682.74 C979.16,682.89 981.15,683.05 983.14,683.20 C985.13,683.35 987.12,683.50 989.12,683.65 C991.11,683.80 993.10,683.94 995.09,684.09 C997.08,684.24 999.07,684.39 1001.06,684.54 C1003.05,684.68 1005.04,684.83 1007.04,684.98 C1009.03,685.12 1011.02,685.27 1013.01,685.41 C1015.00,685.56 1016.99,685.70 1018.98,685.85 C1020.97,685.99 1022.97,686.14 1024.96,686.28 C1026.95,686.43 1028.94,686.57 1030.93,686.72 C1032.92,686.86 1034.91,687.01 1036.91,687.15 C1038.90,687.29 1040.89,687.44 1042.88,687.58 C1044.87,687.73 1046.86,687.87 1048.85,688.01 C1050.85,688.16 1052.84,688.30 1054.83,688.45 C1056.82,688.59 1058.81,688.73 1060.80,688.88 C1062.79,689.02 1064.79,689.17 1066.78,689.31 C1068.77,689.46 1070.76,689.60 1072.75,689.75 C1074.74,689.89 1076.73,690.04 1078.72,690.19 C1080.72,690.33 1082.71,690.48 1084.70,690.63 C1086.69,690.77 1088.68,690.92 1090.67,691.07 C1092.66,691.22 1094.65,691.37 1096.65,691.52 C1098.64,691.66 1100.63,691.81 1102.62,691.96 C1104.61,692.12 1106.60,692.27 1108.59,692.42 C1110.58,692.57 1112.57,692.72 1114.56,692.88 C1116.55,693.03 1118.54,693.18 1120.54,693.34 C1122.53,693.49 1124.52,693.65 1126.51,693.81 C1128.50,693.96 1130.49,694.12 1132.48,694.28 C1134.47,694.44 1136.46,694.60 1138.45,694.76 C1140.44,694.92 1142.43,695.08 1144.42,695.24 C1146.41,695.40 1148.40,695.57 1150.39,695.73 C1152.38,695.90 1154.37,696.06 1156.36,696.23 C1158.35,696.40 1160.34,696.57 1162.33,696.74 C1164.32,696.91 1166.31,697.08 1168.29,697.25 C1170.28,697.42 1172.27,697.60 1174.26,697.77 C1176.25,697.95 1178.24,698.12 1180.23,698.30 C1182.22,698.48 1184.20,698.66 1186.19,698.84 C1188.18,699.02 1190.17,699.21 1192.16,699.39 C1194.15,699.57 1196.13,699.76 1198.12,699.95 C1200.11,700.14 1202.10,700.33 1204.08,700.52 C1206.07,700.71 1208.06,700.90 1210.05,701.10 C1212.03,701.29 1214.02,701.49 1216.01,701.68 C1217.99,701.88 1219.98,702.08 1221.97,702.29 C1223.95,702.49 1225.94,702.69 1227.93,702.90 C1229.91,703.10 1231.90,703.31 1233.88,703.52 C1235.87,703.73 1237.85,703.95 1239.84,704.16 C1241.82,704.37 1243.81,704.59 1245.79,704.81 C1247.78,705.03 1249.76,705.25 1251.75,705.47 C1253.73,705.70 1255.71,705.92 1257.70,706.15 C1259.68,706.38 1261.66,706.61 1263.65,706.84 C1265.63,707.07 1267.61,707.31 1269.60,707.54 C1271.58,707.78 1273.56,708.02 1275.54,708.26 C1277.52,708.51 1279.51,708.75 1281.49,709.00 C1283.47,709.25 1285.45,709.50 1287.43,709.75" stroke="#800080"/>
<path d="M213.00,913.00 L213.00,244.00 L213.40,265.00 L213.60,300.00 L214.60,333.00 L216.00,361.00 L217.90,383.00 L220.30,397.00 L223.00,402.50 L223.05,402.84 C223.53,401.27 224.18,399.23 224.93,397.15 C225.61,395.24 226.38,393.28 227.16,391.58 C228.31,389.09 229.51,387.23 230.57,386.76 C231.96,386.14 233.05,388.03 233.88,390.99 C234.36,392.71 234.77,394.77 235.11,396.86 C235.44,398.88 235.72,400.90 235.95,402.80 C236.21,404.85 236.42,406.82 236.62,408.76 C236.83,410.76 237.02,412.74 237.21,414.73 C237.40,416.71 237.60,418.70 237.79,420.70 C237.99,422.68 238.18,424.67 238.37,426.67 C238.57,428.65 238.76,430.64 238.96,432.64 C239.15,434.62 239.34,436.62 239.54,438.61 C239.73,440.60 239.93,442.59 240.13,444.58 C240.32,446.57 240.52,448.56 240.72,450.55 C240.92,452.54 241.12,454.52 241.32,456.52 C241.52,458.50 241.72,460.49 241.93,462.48 C242.13,464.47 242.34,466.46 242.54,468.45 C242.75,470.44 242.96,472.43 243.17,474.42 C243.38,476.40 243.60,478.39 243.81,480.38 C244.03,482.37 244.24,484.36 244.46,486.34 C244.68,488.33 244.91,490.32 245.13,492.30 C245.36,494.29 245.58,496.28 245.81,498.26 C246.05,500.25 246.28,502.24 246.52,504.22 C246.75,506.21 246.99,508.20 247.24,510.18 C247.48,512.17 247.73,514.15 247.98,516.13 C248.23,518.12 248.49,520.10 248.75,522.08 C249.01,524.06 249.28,526.04 249.55,528.02 C249.82,530.01 250.10,531.99 250.38,533.96 C250.66,535.94 250.95,537.92 251.25,539.90 C251.55,541.88 251.85,543.85 252.16,545.83 C252.48,547.80 252.80,549.77 253.12,551.75 C253.45,553.72 253.79,555.69 254.14,557.66 C254.48,559.63 254.84,561.59 255.20,563.56 C255.57,565.52 255.94,567.49 256.32,569.45 C256.71,571.41 257.10,573.37 257.51,575.33 C257.91,577.29 258.33,579.24 258.76,581.20 C259.18,583.15 259.62,585.10 260.07,587.05 C260.52,589.00 260.98,590.94 261.45,592.89 C261.92,594.83 262.41,596.77 262.90,598.71 C263.40,600.64 263.90,602.57 264.43,604.51 C264.94,606.44 265.48,608.37 266.03,610.30 C266.57,612.21 267.14,614.13 267.72,616.05 C268.30,617.96 268.90,619.87 269.52,621.77 C270.14,623.67 270.78,625.57 271.45,627.45 C272.12,629.34 272.81,631.22 273.53,633.08 C274.25,634.95 274.99,636.80 275.77,638.64 C276.55,640.49 277.36,642.32 278.20,644.13 C279.04,645.95 279.92,647.74 280.83,649.51 C281.75,651.30 282.71,653.06 283.70,654.78 C284.70,656.53 285.74,658.24 286.81,659.91 C287.90,661.60 289.03,663.25 290.21,664.85 C291.39,666.48 292.62,668.05 293.90,669.58 C295.18,671.12 296.51,672.61 297.89,674.05 C299.28,675.50 300.72,676.89 302.20,678.23 C303.68,679.57 305.21,680.86 306.78,682.10 C308.34,683.34 309.95,684.53 311.60,685.67 C313.24,686.80 314.92,687.89 316.63,688.93 C318.33,689.97 320.07,690.96 321.84,691.90 C323.60,692.84 325.39,693.73 327.21,694.58 C329.01,695.43 330.85,696.23 332.70,696.99 C334.55,697.74 336.42,698.46 338.30,699.13 C340.18,699.80 342.08,700.43 344.00,701.02 C345.90,701.61 347.83,702.16 349.76,702.67 C351.69,703.18 353.64,703.65 355.59,704.09 C357.54,704.52 359.50,704.92 361.47,705.29 C363.43,705.65 365.41,705.98 367.38,706.28 C369.36,706.58 371.35,706.84 373.33,707.07 C375.32,707.30 377.31,707.50 379.30,707.66 C381.29,707.83 383.29,707.97 385.28,708.07 C387.28,708.18 389.28,708.25 391.28,708.30 C393.28,708.35 395.27,708.37 397.27,708.37 C399.27,708.37 401.27,708.34 403.27,708.28 C405.27,708.23 407.27,708.16 409.27,708.06 C411.26,707.96 413.26,707.84 415.25,707.71 C417.25,707.57 419.24,707.41 421.23,707.24 C423.22,707.06 425.21,706.87 427.21,706.67 C429.19,706.46 431.18,706.24 433.17,706.01 C435.15,705.78 437.14,705.53 439.12,705.28 C441.10,705.02 443.08,704.76 445.07,704.48 C447.05,704.21 449.02,703.92 451.00,703.63 C452.98,703.34 454.96,703.05 456.94,702.74 C458.91,702.44 460.89,702.14 462.86,701.83 C464.84,701.52 466.82,701.21 468.79,700.90 C470.77,700.59 472.74,700.28 474.72,699.97 C476.69,699.66 478.67,699.35 480.64,699.05 C482.62,698.74 484.60,698.44 486.57,698.14 C488.55,697.85 490.53,697.56 492.51,697.27 C494.49,696.99 496.47,696.72 498.45,696.45 C500.43,696.18 502.42,695.92 504.40,695.67 C506.38,695.42 508.37,695.18 510.35,694.95 C512.34,694.71 514.33,694.48 516.31,694.27 C518.30,694.05 520.29,693.83 522.28,693.63 C524.27,693.43 526.26,693.23 528.25,693.04 C530.24,692.85 532.23,692.67 534.22,692.49 C536.21,692.31 538.20,692.14 540.20,691.98 C542.19,691.82 544.18,691.66 546.18,691.51 C548.17,691.36 550.16,691.22 552.16,691.08 C554.15,690.95 556.15,690.81 558.14,690.69 C560.14,690.56 562.14,690.44 564.13,690.33 C566.13,690.22 568.13,690.11 570.12,690.00 C572.12,689.90 574.12,689.80 576.11,689.71 C578.11,689.62 580.11,689.53 582.11,689.45 C584.10,689.37 586.10,689.29 588.10,689.22 C590.10,689.14 592.10,689.07 594.09,689.01 C596.09,688.94 598.09,688.88 600.09,688.83 C602.09,688.77 604.09,688.72 606.09,688.67 C608.09,688.62 610.08,688.58 612.08,688.54 C614.08,688.50 616.08,688.46 618.08,688.42 C620.08,688.39 622.08,688.36 624.08,688.33 C626.08,688.30 628.08,688.28 630.08,688.26 C632.08,688.23 634.08,688.21 636.07,688.20 C638.07,688.18 640.07,688.16 642.07,688.15 C644.07,688.14 646.07,688.13 648.07,688.12 C650.07,688.11 652.07,688.11 654.07,688.10 C656.07,688.10 658.07,688.09 660.07,688.09 C662.07,688.09 664.07,688.09 666.07,688.09 C668.07,688.09 670.07,688.09 672.07,688.10 C674.06,688.10 676.06,688.10 678.06,688.11 C680.06,688.11 682.06,688.12 684.06,688.12 C686.06,688.13 688.06,688.13 690.06,688.14 C692.06,688.14 694.06,688.15 696.06,688.16 C698.06,688.16 700.06,688.17 702.06,688.17 C704.06,688.18 706.06,688.18 708.06,688.19 C710.06,688.19 712.05,688.20 714.05,688.20 C716.05,688.20 718.05,688.20 720.05,688.20 C722.05,688.20 724.05,688.20 726.05,688.20 C728.05,688.20 730.05,688.20 732.05,688.19 C734.05,688.19 736.05,688.18 738.05,688.17 C740.05,688.16 742.05,688.15 744.05,688.14" stroke="#00ff00"/>
</g>
<g class="tk">
<text transform="translate(183.4,942.50) scale(1,1.035)" text-anchor="end">0</text>
<text transform="translate(183.4,799.27) scale(1,1.035)" text-anchor="end">20</text>
<text transform="translate(183.4,656.03) scale(1,1.035)" text-anchor="end">40</text>
<text transform="translate(183.4,512.80) scale(1,1.035)" text-anchor="end">60</text>
<text transform="translate(183.4,369.57) scale(1,1.035)" text-anchor="end">80</text>
<text transform="translate(183.4,226.33) scale(1,1.035)" text-anchor="end">100</text>
<text transform="translate(183.4,83.10) scale(1,1.035)" text-anchor="end">120</text>
<text transform="translate(212.50,992.9) scale(1,1.035)" text-anchor="middle">0</text>
<text transform="translate(408.95,992.9) scale(1,1.035)" text-anchor="middle">2000</text>
<text transform="translate(605.41,992.9) scale(1,1.035)" text-anchor="middle">4000</text>
<text transform="translate(801.86,992.9) scale(1,1.035)" text-anchor="middle">6000</text>
<text transform="translate(998.32,992.9) scale(1,1.035)" text-anchor="middle">8000</text>
<text transform="translate(1194.77,992.9) scale(1,1.035)" text-anchor="middle">10000</text>
</g>
<rect x="829.7" y="82" width="446.7" height="358.3" fill="#fff" stroke="#000" stroke-width="1.4"/>
<line x1="837" y1="121.4" x2="966" y2="121.4" stroke="#000" stroke-width="10.6" stroke-linecap="round"/>
<text x="980" y="139.6" class="lg">40w E</text>
<line x1="837" y1="191.4" x2="966" y2="191.4" stroke="#f00" stroke-width="10.6" stroke-linecap="round"/>
<text x="980" y="209.6" class="lg">40w W(Ref)</text>
<line x1="837.5" y1="261.4" x2="961.5" y2="261.4" stroke="#00f" stroke-width="10.6" stroke-linecap="round" stroke-dasharray="7 52"/>
<text x="980" y="279.6" class="lg">40w E-W</text>
<line x1="837" y1="331.2" x2="966" y2="331.2" stroke="#800080" stroke-width="10.6" stroke-linecap="round"/>
<text x="980" y="349.4" class="lg">80w W</text>
<line x1="837" y1="401.0" x2="966" y2="401.0" stroke="#0f0" stroke-width="10.6" stroke-linecap="round"/>
<text x="980" y="419.2" class="lg">160w W</text>
<text class="ax tt" x="753.5" y="1080.8" text-anchor="middle">Time (days)</text>
<text class="ax" transform="translate(73.2,869.5) rotate(-90)">R<tspan dy="14.5" font-size="39.5px">GW</tspan><tspan dy="-14.5"> (ST m</tspan><tspan dy="-23.5" font-size="39.5px">3</tspan><tspan dy="23.5">of CH</tspan><tspan dy="14.5" font-size="39.5px">4</tspan><tspan dy="-14.5">/m</tspan><tspan dy="-23.5" font-size="39.5px">3</tspan><tspan dy="23.5"> of H</tspan><tspan dy="14.5" font-size="39.5px">2</tspan><tspan dy="-14.5">O)</tspan></text>
</svg>
</body></html>
